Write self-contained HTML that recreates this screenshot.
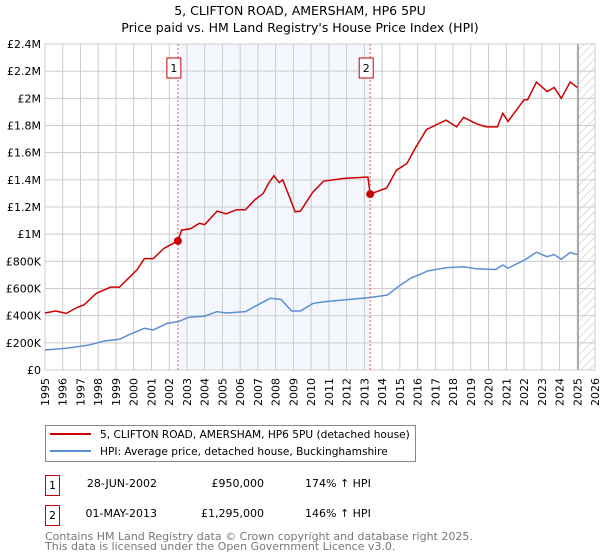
<!DOCTYPE html>
<html><head><meta charset="utf-8"><style>
body{margin:0;background:#fff;font-family:"DejaVu Sans","Liberation Sans",sans-serif;}
svg{display:block}
</style></head><body>
<svg id="c" width="600" height="560" xmlns="http://www.w3.org/2000/svg" font-family="DejaVu Sans, Liberation Sans, sans-serif">
<text x="300" y="15" text-anchor="middle" font-size="12.5">5, CLIFTON ROAD, AMERSHAM, HP6 5PU</text>
<text x="300" y="32" text-anchor="middle" font-size="12.5">Price paid vs. HM Land Registry's House Price Index (HPI)</text>
<g id="plot"></g>
<g>
<rect x="45.5" y="425.5" width="370" height="36" fill="#fff" stroke="#888"/>
<line x1="50" y1="434" x2="91" y2="434" stroke="#cc0000" stroke-width="2"/>
<text x="100" y="438" font-size="10.6">5, CLIFTON ROAD, AMERSHAM, HP6 5PU (detached house)</text>
<line x1="50" y1="451" x2="91" y2="451" stroke="#5b8fd4" stroke-width="2"/>
<text x="100" y="455" font-size="10.6">HPI: Average price, detached house, Buckinghamshire</text>
</g>
<g font-size="11">
<rect x="45.5" y="475.5" width="14" height="20" fill="#fff" stroke="#cc0000"/>
<text x="52.5" y="489" text-anchor="middle">1</text>
<text x="157" y="487" text-anchor="end">28-JUN-2002</text>
<text x="264" y="487" text-anchor="end">£950,000</text>
<text x="305" y="487">174% ↑ HPI</text>
<rect x="45.5" y="505.5" width="14" height="20" fill="#fff" stroke="#cc0000"/>
<text x="52.5" y="519" text-anchor="middle">2</text>
<text x="157" y="517" text-anchor="end">01-MAY-2013</text>
<text x="264" y="517" text-anchor="end">£1,295,000</text>
<text x="305" y="517">146% ↑ HPI</text>
</g>
<g font-size="11" fill="#777">
<text x="45" y="540">Contains HM Land Registry data © Crown copyright and database right 2025.</text>
<text x="45" y="550">This data is licensed under the Open Government Licence v3.0.</text>
</g>
</svg>
<script>
const yearTicks=[1995,1996,1997,1998,1999,2000,2001,2002,2003,2004,2005,2006,2007,2008,2009,2010,2011,2012,2013,2014,2015,2016,2017,2018,2019,2020,2021,2022,2023,2024,2025,2026];
const yTickValues=[0,200000,400000,600000,800000,1000000,1200000,1400000,1600000,1800000,2000000,2200000,2400000];
const yTickLabels=["£0","£200K","£400K","£600K","£800K","£1M","£1.2M","£1.4M","£1.6M","£1.8M","£2M","£2.2M","£2.4M"];
const propYears=[1995.0,1995.6,1996.2,1996.8,1997.2,1997.9,1998.7,1999.2,1999.7,2000.2,2000.6,2001.1,2001.7,2002.05,2002.49,2002.7,2003.2,2003.7,2004.0,2004.7,2005.2,2005.8,2006.3,2006.8,2007.3,2007.6,2007.9,2008.2,2008.4,2008.7,2009.1,2009.4,2010.1,2010.7,2011.8,2013.1,2013.2,2013.33,2014.26,2014.8,2015.4,2015.9,2016.5,2017.6,2018.2,2018.6,2019.2,2019.6,2019.9,2020.5,2020.8,2021.1,2022.0,2022.2,2022.7,2023.3,2023.7,2024.1,2024.6,2025.0];
const propValues=[0.42,0.434,0.417,0.46,0.48,0.565,0.61,0.61,0.675,0.74,0.82,0.82,0.895,0.92,0.95,1.03,1.04,1.08,1.07,1.17,1.15,1.18,1.18,1.25,1.30,1.375,1.43,1.38,1.40,1.30,1.165,1.17,1.31,1.39,1.41,1.42,1.42,1.295,1.34,1.47,1.52,1.64,1.77,1.84,1.79,1.86,1.82,1.80,1.79,1.79,1.89,1.83,1.99,1.99,2.12,2.05,2.08,2.0,2.12,2.08];
const hpiYears=[1995.0,1996.2,1997.5,1998.3,1999.2,1999.7,2000.6,2001.1,2001.9,2002.5,2003.1,2004.0,2004.7,2005.2,2006.3,2007.0,2007.7,2008.3,2008.9,2009.4,2010.1,2010.8,2011.8,2013.3,2014.3,2014.9,2015.6,2016.6,2017.6,2018.6,2019.3,2020.4,2020.8,2021.1,2022.1,2022.7,2023.3,2023.7,2024.1,2024.6,2025.0];
const hpiValues=[0.147,0.16,0.184,0.213,0.226,0.258,0.307,0.295,0.344,0.355,0.388,0.397,0.43,0.42,0.43,0.48,0.528,0.52,0.434,0.434,0.49,0.503,0.515,0.533,0.552,0.613,0.675,0.73,0.753,0.76,0.745,0.74,0.773,0.75,0.815,0.867,0.834,0.85,0.815,0.865,0.85];
const saleYears=[2002.49,2013.33];
const saleValues=[950000,1295000];
const saleLabels=["1","2"];
const hatchStart=2025.05;

const X0=45,X1=595,Y0=370,Y1=44,XMIN=1995,XMAX=2026,YMAX=2400000;
const xs=y=>X0+(y-XMIN)/(XMAX-XMIN)*(X1-X0);
const ys=v=>Y0-v/YMAX*(Y0-Y1);
const NS="http://www.w3.org/2000/svg";
const g=document.getElementById('plot');
function mk(t,a,p){const e=document.createElementNS(NS,t);for(const k in a)e.setAttribute(k,a[k]);(p||g).appendChild(e);return e;}

const shade=mk('rect',{x:xs(saleYears[0]),y:Y1,width:xs(saleYears[1])-xs(saleYears[0]),height:Y0-Y1,fill:'#f3f6fd'});


const defs=mk('defs',{});
const pat=mk('pattern',{id:'h',width:6,height:6,patternUnits:'userSpaceOnUse',patternTransform:'rotate(45)'},defs);
mk('line',{x1:0,y1:0,x2:0,y2:6,stroke:'#bbb','stroke-width':1},pat);
const hatch=mk('rect',{x:xs(hatchStart),y:Y1,width:X1-xs(hatchStart),height:Y0-Y1,fill:'url(#h)'});



yearTicks.forEach(y=>{
  const l=mk('line',{x1:xs(y),y1:Y1,x2:xs(y),y2:Y0,stroke:'#ccc'});
  
  
  const t=mk('text',{x:0,y:0,'font-size':11,'text-anchor':'end',transform:`translate(${xs(y)+4},${Y0+8}) rotate(-90)`});
  t.textContent=y;
  
  
});
yTickValues.forEach((v,i)=>{
  const l=mk('line',{x1:X0,y1:ys(v),x2:X1,y2:ys(v),stroke:'#ccc'});
  
  
  const t=mk('text',{x:X0-4,y:ys(v)+4,'font-size':11,'text-anchor':'end'});
  t.textContent=yTickLabels[i];
  
  
});
const hl=mk('line',{x1:xs(hatchStart),y1:Y1,x2:xs(hatchStart),y2:Y0,stroke:'#888','stroke-width':1.2});


const border=mk('rect',{x:X0,y:Y1,width:X1-X0,height:Y0-Y1,fill:'none',stroke:'#ccc'});



const hp=mk('polyline',{points:hpiYears.map((y,i)=>xs(y)+','+ys(hpiValues[i]*1e6)).join(' '),fill:'none',stroke:'#5b8fd4','stroke-width':1.5});


const pp=mk('polyline',{points:propYears.map((y,i)=>xs(y)+','+ys(propValues[i]*1e6)).join(' '),fill:'none',stroke:'#cc0000','stroke-width':1.5});



saleYears.forEach((y,i)=>{
  const l=mk('line',{x1:xs(y),y1:Y1,x2:xs(y),y2:Y0,stroke:'#e06060','stroke-dasharray':'2,2'});
  
  
  const c=mk('circle',{cx:xs(y),cy:ys(saleValues[i]),r:4,fill:'#cc0000'});
  
  
  const b=mk('rect',{x:xs(y)-11,y:58,width:14,height:20,fill:'#fff',stroke:'#cc0000'});
  
  
  const t=mk('text',{x:xs(y)-4,y:72,'font-size':11,'text-anchor':'middle'});
  t.textContent=saleLabels[i];
  
  
});
</script>
</body></html>
